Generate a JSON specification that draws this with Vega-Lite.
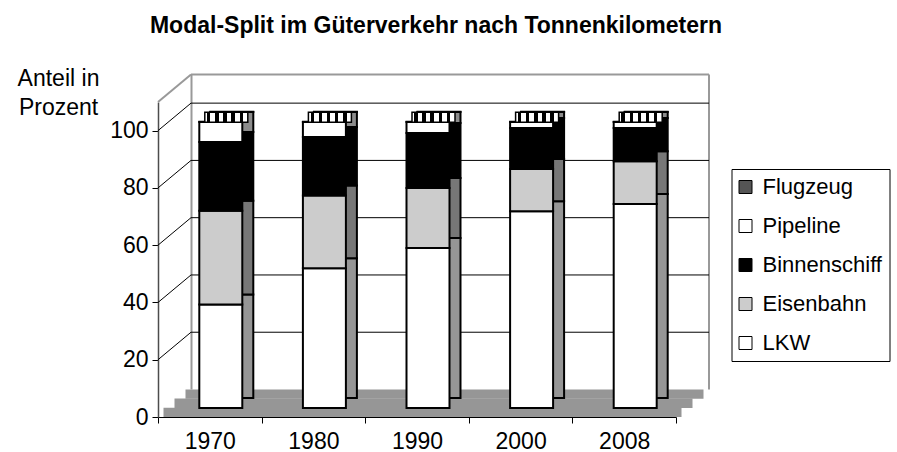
{
  "$schema": "https://vega.github.io/schema/vega-lite/v6.json",
  "autosize": {"type": "none"},
  "width": 518,
  "height": 315,
  "padding": {"left": 158, "top": 102, "right": 221, "bottom": 35},
  "background": "white",
  "config": {
    "font": "Liberation Sans",
    "view": {"stroke": null}
  },
  "title": {
    "text": "Modal-Split im Güterverkehr nach Tonnenkilometern",
    "fontSize": 23,
    "fontWeight": "bold",
    "font": "Liberation Sans",
    "color": "black",
    "anchor": "middle",
    "dx": 19,
    "dy": -25
  },
  "datasets": {
    "modal": [
      {"jahr": "1970", "traeger": "LKW", "anteil": 36.1},
      {"jahr": "1970", "traeger": "Eisenbahn", "anteil": 32.8},
      {"jahr": "1970", "traeger": "Binnenschiff", "anteil": 24.0},
      {"jahr": "1970", "traeger": "Pipeline", "anteil": 7.0},
      {"jahr": "1970", "traeger": "Flugzeug", "anteil": 0.1},
      {"jahr": "1980", "traeger": "LKW", "anteil": 48.8},
      {"jahr": "1980", "traeger": "Eisenbahn", "anteil": 25.4},
      {"jahr": "1980", "traeger": "Binnenschiff", "anteil": 20.4},
      {"jahr": "1980", "traeger": "Pipeline", "anteil": 5.3},
      {"jahr": "1980", "traeger": "Flugzeug", "anteil": 0.1},
      {"jahr": "1990", "traeger": "LKW", "anteil": 55.9},
      {"jahr": "1990", "traeger": "Eisenbahn", "anteil": 20.9},
      {"jahr": "1990", "traeger": "Binnenschiff", "anteil": 19.2},
      {"jahr": "1990", "traeger": "Pipeline", "anteil": 3.9},
      {"jahr": "1990", "traeger": "Flugzeug", "anteil": 0.1},
      {"jahr": "2000", "traeger": "LKW", "anteil": 68.7},
      {"jahr": "2000", "traeger": "Eisenbahn", "anteil": 14.8},
      {"jahr": "2000", "traeger": "Binnenschiff", "anteil": 14.3},
      {"jahr": "2000", "traeger": "Pipeline", "anteil": 2.1},
      {"jahr": "2000", "traeger": "Flugzeug", "anteil": 0.1},
      {"jahr": "2008", "traeger": "LKW", "anteil": 71.2},
      {"jahr": "2008", "traeger": "Eisenbahn", "anteil": 15.0},
      {"jahr": "2008", "traeger": "Binnenschiff", "anteil": 11.6},
      {"jahr": "2008", "traeger": "Pipeline", "anteil": 2.1},
      {"jahr": "2008", "traeger": "Flugzeug", "anteil": 0.1}
    ],
    "boden": [{"v": 0}],
    "gitter": [{"v": 20}, {"v": 40}, {"v": 60}, {"v": 80}, {"v": 100}],
    "wand": [{"v": 110}]
  },
  "resolve": {
    "axis": {"y": "independent"},
    "scale": {"color": "independent"},
    "legend": {"color": "independent"}
  },
  "layer": [
    {
      "data": {"name": "boden"},
      "mark": {"type": "rule", "color": "#969696", "strokeWidth": 9.4, "xOffset": 5.5, "x2Offset": 5.5, "yOffset": -4.6},
      "encoding": {
        "x": {"datum": "1970", "bandPosition": 0},
        "x2": {"datum": "2008", "bandPosition": 1},
        "y": {"field": "v", "type": "quantitative", "axis": null}
      }
    },
    {
      "data": {"name": "boden"},
      "mark": {"type": "rule", "color": "#969696", "strokeWidth": 9.4, "xOffset": 16.5, "x2Offset": 16.5, "yOffset": -13.8},
      "encoding": {
        "x": {"datum": "1970", "bandPosition": 0},
        "x2": {"datum": "2008", "bandPosition": 1},
        "y": {"field": "v", "type": "quantitative", "axis": null}
      }
    },
    {
      "data": {"name": "boden"},
      "mark": {"type": "rule", "color": "#969696", "strokeWidth": 9.4, "xOffset": 27.5, "x2Offset": 27.5, "yOffset": -22.9},
      "encoding": {
        "x": {"datum": "1970", "bandPosition": 0},
        "x2": {"datum": "2008", "bandPosition": 1},
        "y": {"field": "v", "type": "quantitative", "axis": null}
      }
    },
    {
      "data": {"name": "gitter"},
      "mark": {"type": "rule", "color": "black", "strokeWidth": 1, "xOffset": 33, "x2Offset": 33, "yOffset": -27.5},
      "encoding": {
        "x": {"datum": "1970", "bandPosition": 0},
        "x2": {"datum": "2008", "bandPosition": 1},
        "y": {
          "field": "v", "type": "quantitative",
          "axis": {"orient": "left", "offset": -61, "translate": -27.5, "domain": true, "domainColor": "#999999", "domainWidth": 2, "ticks": false, "labels": false, "grid": false, "title": null}
        }
      }
    },
    {
      "data": {"name": "gitter"},
      "mark": {"type": "rule", "color": "black", "strokeWidth": 1, "x2Offset": 33, "y2Offset": -27.5},
      "encoding": {
        "x": {"datum": "1970", "bandPosition": 0},
        "x2": {"datum": "1970", "bandPosition": 0},
        "y": {"field": "v", "type": "quantitative", "axis": null},
        "y2": {"field": "v"}
      }
    },
    {
      "data": {"name": "wand"},
      "mark": {"type": "rule", "color": "#999999", "strokeWidth": 2, "xOffset": 33, "x2Offset": 33, "yOffset": -27.5},
      "encoding": {
        "x": {"datum": "1970", "bandPosition": 0},
        "x2": {"datum": "2008", "bandPosition": 1},
        "y": {
          "field": "v", "type": "quantitative",
          "axis": {"orient": "right", "offset": 60.5, "translate": -27.5, "domain": true, "domainColor": "#999999", "domainWidth": 2, "ticks": false, "labels": false, "grid": false, "title": null}
        }
      }
    },
    {
      "data": {"name": "wand"},
      "mark": {"type": "rule", "color": "#999999", "strokeWidth": 2, "x2Offset": 33, "y2Offset": -27.5},
      "encoding": {
        "x": {"datum": "1970", "bandPosition": 0},
        "x2": {"datum": "1970", "bandPosition": 0},
        "y": {"field": "v", "type": "quantitative", "axis": null},
        "y2": {"field": "v"}
      }
    },
    {
      "data": {"name": "modal"},
      "mark": {"type": "bar", "width": {"band": 0.415}, "stroke": "black", "strokeWidth": 2, "xOffset": 22, "yOffset": -19, "y2Offset": -12},
      "encoding": {
        "x": {"field": "jahr", "type": "nominal"},
        "y": {"field": "anteil", "type": "quantitative", "stack": "zero", "axis": null},
        "order": {"field": "anteil", "type": "quantitative", "sort": "descending"},
        "color": {
          "field": "traeger", "type": "nominal",
          "scale": {"domain": ["LKW", "Eisenbahn", "Binnenschiff", "Pipeline", "Flugzeug"], "range": ["#969696", "#777777", "#000000", "#8c8c8c", "#555555"]},
          "legend": null
        }
      }
    },
    {
      "data": {"name": "modal"},
      "mark": {"type": "bar", "width": {"band": 0.415}, "stroke": "black", "strokeWidth": 2, "xOffset": 11, "yOffset": -9},
      "encoding": {
        "x": {
          "field": "jahr", "type": "nominal",
          "scale": {"paddingInner": 0, "paddingOuter": 0},
          "axis": {"labelAngle": 0, "title": null, "tickBand": "extent", "tickSize": 6, "tickColor": "black", "domainColor": "black", "labelFontSize": 23, "labelColor": "black", "labelPadding": 18, "labelAlign": "center", "labelFlush": false}
        },
        "y": {
          "field": "anteil", "type": "quantitative", "stack": "zero",
          "scale": {"domain": [0, 110], "nice": false},
          "axis": {
            "values": [0, 20, 40, 60, 80, 100], "grid": false, "tickSize": 6, "tickColor": "black",
            "domainColor": "#4d4d4d", "domainWidth": 1.5, "labelFontSize": 23, "labelColor": "black", "labelPadding": 4,
            "title": ["Anteil in", "Prozent"], "titleFontSize": 23, "titleFontWeight": "normal", "titleColor": "black",
            "titleAngle": 0, "titleAlign": "center", "titleBaseline": "alphabetic", "titleX": -100, "titleY": -17, "titleLineHeight": 29
          }
        },
        "order": {"field": "anteil", "type": "quantitative", "sort": "descending"},
        "color": {
          "field": "traeger", "type": "nominal",
          "scale": {"domain": ["Flugzeug", "Pipeline", "Binnenschiff", "Eisenbahn", "LKW"], "range": ["#555555", "#ffffff", "#000000", "#cccccc", "#ffffff"]},
          "legend": {
            "orient": "none", "legendX": 573.5, "legendY": 67, "direction": "vertical", "title": null,
            "strokeColor": "black", "fillColor": "white", "padding": 7,
            "labelFontSize": 22, "labelColor": "black", "labelOffset": 6, "symbolOffset": -4,
            "symbolType": "square", "symbolSize": 169, "symbolStrokeColor": "black", "symbolStrokeWidth": 1, "symbolOpacity": 1,
            "rowPadding": 17
          }
        }
      }
    },
    {
      "data": {"name": "modal"},
      "transform": [{"aggregate": [{"op": "sum", "field": "anteil", "as": "gesamt"}], "groupby": ["jahr"]}],
      "mark": {
        "type": "tick", "orient": "horizontal", "size": 43, "thickness": 10, "xOffset": 16.5, "yOffset": -13.5,
        "stroke": "black", "strokeWidth": 1.5, "opacity": 1,
        "fill": {"gradient": "linear", "x1": 0, "x2": 1, "y1": 0, "y2": 0, "stops": [
          {"offset": 0, "color": "white"}, {"offset": 0.05, "color": "white"},
          {"offset": 0.05, "color": "black"}, {"offset": 0.13, "color": "black"},
          {"offset": 0.13, "color": "white"}, {"offset": 0.24, "color": "white"},
          {"offset": 0.24, "color": "black"}, {"offset": 0.32, "color": "black"},
          {"offset": 0.32, "color": "white"}, {"offset": 0.43, "color": "white"},
          {"offset": 0.43, "color": "black"}, {"offset": 0.51, "color": "black"},
          {"offset": 0.51, "color": "white"}, {"offset": 0.62, "color": "white"},
          {"offset": 0.62, "color": "black"}, {"offset": 0.70, "color": "black"},
          {"offset": 0.70, "color": "white"}, {"offset": 0.81, "color": "white"},
          {"offset": 0.81, "color": "black"}, {"offset": 0.89, "color": "black"},
          {"offset": 0.89, "color": "white"}, {"offset": 1, "color": "white"}
        ]}
      },
      "encoding": {
        "x": {"field": "jahr", "type": "nominal"},
        "y": {"field": "gesamt", "type": "quantitative", "axis": null}
      }
    }
  ]
}
